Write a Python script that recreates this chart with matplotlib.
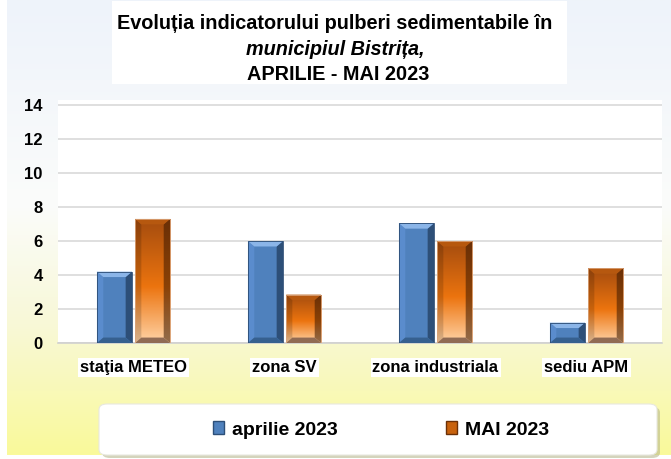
import numpy as np
import matplotlib
matplotlib.use("Agg")
import matplotlib.pyplot as plt
from matplotlib.colors import LinearSegmentedColormap
from matplotlib.patches import Polygon, FancyBboxPatch, Rectangle, Patch

# ---- data ----
categories = ["staţia METEO", "zona SV", "zona industriala", "sediu APM"]
series_names = ["aprilie 2023", "MAI 2023"]
aprilie = [4.2, 6.0, 7.05, 1.2]
mai = [7.3, 2.85, 6.0, 4.4]
yticks = [0, 2, 4, 6, 8, 10, 12, 14]

plt.rcParams['font.family'] = ['Liberation Sans', 'DejaVu Sans']

W, H = 671, 459
fig = plt.figure(figsize=(W / 100, H / 100), dpi=100)
fig.patch.set_facecolor("white")

# background gradient
bg = fig.add_axes([7 / W, 4 / H, (W - 7) / W, (H - 4) / H], zorder=-10)
bg_cmap = LinearSegmentedColormap.from_list(
    "bg", [(0.0, "#eef3fa"), (0.45, "#fbfcfb"), (0.72, "#f8f8d6"), (1.0, "#fafa9a")])
bg.imshow(np.linspace(0, 1, 256).reshape(-1, 1), aspect="auto", cmap=bg_cmap,
          extent=[0, 1, 0, 1], origin="upper")
bg.set_axis_off()

# title white box
fig.patches.append(Rectangle((112 / W, 1 - 84 / H), (567 - 112) / W, 83 / H,
                             transform=fig.transFigure, facecolor="white",
                             edgecolor="none", zorder=-5))

fig.text(335 / W, 1 - 29 / H, "Evoluția indicatorului pulberi sedimentabile în",
         ha="center", va="baseline", fontsize=14.3, fontweight="bold")
fig.text(335 / W, 1 - 55 / H, "municipiul Bistrița,", ha="center", va="baseline",
         fontsize=14.3, fontstyle="italic", fontweight="bold")
fig.text(338 / W, 1 - 80 / H, "APRILIE - MAI 2023", ha="center", va="baseline",
         fontsize=14.3, fontweight="bold")

# main axes
ax = fig.add_axes([58 / W, (H - 343) / H, 604 / W, 243 / H])
ax.set_facecolor("white")
ax.set_xlim(-0.5, len(categories) - 0.5)
ax.set_ylim(0, 14.3)
ax.set_yticks(yticks)
ax.set_yticklabels([str(v) for v in yticks], fontsize=12, fontweight="bold")
ax.tick_params(axis="y", length=0, pad=11)
ax.tick_params(axis="x", length=0, pad=12)
for s in ["top", "right", "left"]:
    ax.spines[s].set_visible(False)
ax.spines["bottom"].set_color("#d0d0d0")
ax.spines["bottom"].set_linewidth(1.2)
ax.yaxis.grid(True, color="#d9d9d9", linewidth=1.2)
ax.set_axisbelow(True)

x = np.arange(len(categories))
bw = 0.232
off = 0.126
ax.set_xticks(x)
ax.set_xticklabels(categories, fontsize=12, fontweight="bold")
for lbl in ax.get_xticklabels():
    lbl.set_bbox(dict(facecolor="white", edgecolor="none", pad=1.5))

blue_bars = ax.bar(x - off, aprilie, bw, color="#4f81bd", edgecolor="none", zorder=3)
orange_bars = ax.bar(x + off, mai, bw, color="#e46c0a", edgecolor="none", zorder=3)

orange_cmap = LinearSegmentedColormap.from_list(
    "or", [(0.0, "#ffd3a6"), (0.45, "#ec740f"), (1.0, "#a44c0e")])


def bevels(rect):
    x0 = rect.get_x()
    w, h = rect.get_width(), rect.get_height()
    bx = 0.042
    by = min(0.32, h / 3)
    top = [(x0, h), (x0 + w, h), (x0 + w - bx, h - by), (x0 + bx, h - by)]
    bot = [(x0, 0), (x0 + w, 0), (x0 + w - bx, by), (x0 + bx, by)]
    left = [(x0, 0), (x0, h), (x0 + bx, h - by), (x0 + bx, by)]
    right = [(x0 + w, 0), (x0 + w, h), (x0 + w - bx, h - by), (x0 + w - bx, by)]
    return top, bot, left, right


for r in blue_bars:
    top, bot, left, right = bevels(r)
    ax.add_patch(Polygon(left, closed=True, facecolor="#5a8ccd", edgecolor="none", zorder=4))
    ax.add_patch(Polygon(right, closed=True, facecolor="#2d4f78", edgecolor="none", zorder=4))
    ax.add_patch(Polygon(bot, closed=True, facecolor="#36608f", edgecolor="none", zorder=4))
    ax.add_patch(Polygon(top, closed=True, facecolor="#8bb5e8", edgecolor="none", zorder=4))
    ax.add_patch(Rectangle((r.get_x(), r.get_y()), r.get_width(), r.get_height(),
                           facecolor="none", edgecolor="#2a4a72", linewidth=0.6, zorder=5))

for r in orange_bars:
    x0, w, h = r.get_x(), r.get_width(), r.get_height()
    im = ax.imshow(np.linspace(0, 1, 128).reshape(-1, 1), aspect="auto", cmap=orange_cmap,
                   extent=[x0, x0 + w, 0, h], origin="lower", zorder=3.5)
    im.set_clip_path(r)
    top, bot, left, right = bevels(r)
    ax.add_patch(Polygon(left, closed=True, facecolor="black", alpha=0.15, edgecolor="none", zorder=4))
    ax.add_patch(Polygon(right, closed=True, facecolor="#3a1800", alpha=0.55, edgecolor="none", zorder=4))
    ax.add_patch(Polygon(bot, closed=True, facecolor="#8a6650", alpha=0.95, edgecolor="none", zorder=4))
    ax.add_patch(Polygon(top, closed=True, facecolor="#b85a10", alpha=0.9, edgecolor="none", zorder=4))
    ax.add_patch(Rectangle((x0, 0), w, h, facecolor="none", edgecolor="#d9a37a",
                           linewidth=0.6, zorder=5))

ax.set_xlim(-0.5, len(categories) - 0.5)
ax.set_ylim(0, 14.3)

# legend box with shadow
lx0, ly0, lx1, ly1 = 99, 404, 657, 455
fig.patches.append(FancyBboxPatch((lx0 / W + 3 / W, 1 - ly1 / H - 3 / H),
                                  (lx1 - lx0) / W, (ly1 - ly0) / H,
                                  boxstyle="round,pad=0,rounding_size=0.012",
                                  transform=fig.transFigure, facecolor="#b8b890",
                                  edgecolor="none", alpha=0.6, zorder=-4))
fig.patches.append(FancyBboxPatch((lx0 / W, 1 - ly1 / H), (lx1 - lx0) / W, (ly1 - ly0) / H,
                                  boxstyle="round,pad=0,rounding_size=0.012",
                                  transform=fig.transFigure, facecolor="white",
                                  edgecolor="#e8e8e0", linewidth=0.8, zorder=-3))

handles = [Patch(facecolor="#4f81bd", edgecolor="#2d4f78", label=series_names[0]),
           Patch(facecolor="#c8620e", edgecolor="#6b3008", label=series_names[1])]
fig.legend(handles=handles, loc="center", bbox_to_anchor=(381 / W, 1 - 430 / H),
           ncol=2, frameon=False, prop=dict(size=14, weight="bold"),
           handlelength=0.55, handleheight=0.6, handletextpad=0.4, columnspacing=5.6)

fig.savefig("out.png", dpi=100)
